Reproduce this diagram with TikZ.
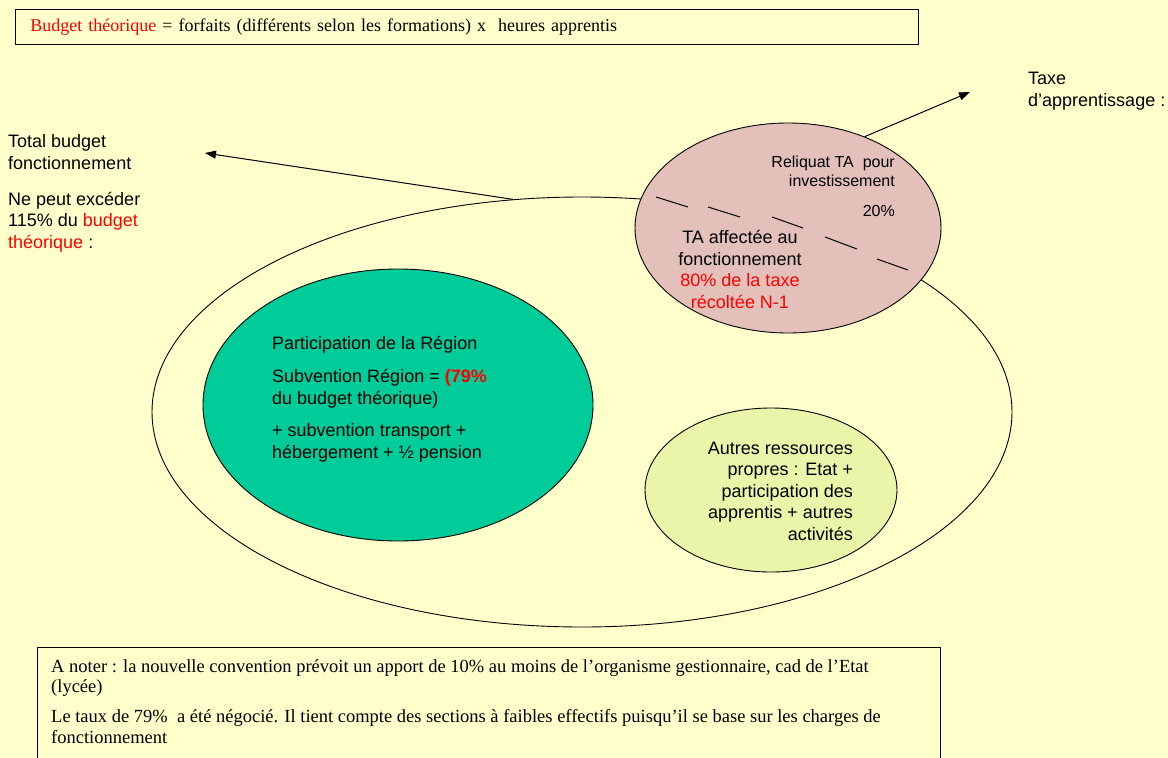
\documentclass[tikz,border=0pt]{standalone}
\usepackage{fontspec}
\setmainfont{Liberation Serif}
\setsansfont{Liberation Sans}
\usetikzlibrary{shapes.geometric,arrows.meta}
\definecolor{fond}{HTML}{FFFFCC}
\definecolor{region}{HTML}{00CC99}
\definecolor{taxe}{HTML}{E3C0BA}
\definecolor{autres}{HTML}{EBF5AA}
\definecolor{rouge}{HTML}{FF0000}
\tikzstyle{bulle}=[
        draw, ellipse, inner sep=0pt, line width=0.9pt
]
\tikzstyle{texte}=[
        inner sep=0pt, font=\sffamily\fontsize{18}{21.5}\selectfont
]
\tikzstyle{fleche}=[
        -{Triangle[length=11pt,width=8pt]}, line width=1pt
]

\begin{document}
\begin{tikzpicture}[x=1pt,y=-1pt]
                        \fill[fond] (0,0) rectangle (1168,758);
                        \useasboundingbox (0,0) rectangle (1168,758);

                        \node[draw, line width=0.9pt, anchor=north west, minimum width=903pt, minimum height=35pt, text width=873pt, inner xsep=15pt, inner ysep=0pt, align=left, font=\rmfamily\fontsize{18}{21}\selectfont] (formule) at (15,9) {\textcolor{rouge}{Budget théorique} = forfaits (différents selon les formations) x\ \ heures apprentis};

                        \node[bulle, minimum width=860pt, minimum height=430pt] (budget) at (582,412) {};
                        \node[bulle, fill=region, minimum width=390pt, minimum height=272pt] (region) at (398,405) {};
                        \node[bulle, fill=taxe, minimum width=306pt, minimum height=210pt] (ta) at (788,228) {};
                        \node[bulle, fill=autres, minimum width=252pt, minimum height=164pt] (autres) at (771,490) {};

                        \foreach \xa/\ya/\xb/\yb in {656/197/688/207, 708/207/740/217, 772/217/803/228, 825/237/857/249, 877/259/908/270} {
                            \draw[line width=1pt] (\xa,\ya) -- (\xb,\yb);
                        }

                        \node[texte, anchor=base west, align=left] (total) at (8,169) {Total budget\\fonctionnement};
                        \node[texte, anchor=base west, align=left] (plafond) at (8,248) {Ne peut excéder\\115\% du \textcolor{rouge}{budget}\\\textcolor{rouge}{théorique} :};
                        \node[texte, anchor=base west, align=left] (taxetxt) at (1028,106) {Taxe\\d’apprentissage :};

                        \coordinate (versTotal) at (205,153);
                        \coordinate (versTaxe) at (970,92);
                        \draw[fleche] (budget.108) -- (versTotal);
                        \draw[fleche] (ta.50) -- (versTaxe);

                        \node[texte, anchor=base west, align=left] (subvention) at (272,458) {Participation de la Région\\[12pt]Subvention Région = \textcolor{rouge}{\bfseries(79\%}\\du budget théorique)\\[11pt]+ subvention transport +\\hébergement + ½ pension};

                        \node[texte, font=\sffamily\fontsize{16}{19}\selectfont, anchor=base east, align=right] (reliquat) at (895,216) {Reliquat TA\ \ pour\\investissement\\[11pt]20\%};
                        \node[texte, anchor=base, align=center] (fonct) at (740,308) {TA affectée au\\fonctionnement\\\textcolor{rouge}{80\% de la taxe}\\\textcolor{rouge}{récoltée N-1}};

                        \node[texte, anchor=base east, align=right] (ressources) at (853,540) {Autres ressources\\propres : Etat +\\participation des\\apprentis + autres\\activités};

                        \draw[line width=0.9pt] (37,647) rectangle (940,790);
                        \node[anchor=base west, align=left, inner sep=0pt, font=\rmfamily\fontsize{18.5}{20.5}\selectfont] (remarque) at (51,743) {A noter : la nouvelle convention prévoit un apport de 10\% au moins de l’organisme gestionnaire, cad de l’Etat\\(lycée)\\[9.5pt]Le taux de 79\%\ \ a été négocié. Il tient compte des sections à faibles effectifs puisqu’il se base sur les charges de\\fonctionnement};
                    \end{tikzpicture}
\end{document}
